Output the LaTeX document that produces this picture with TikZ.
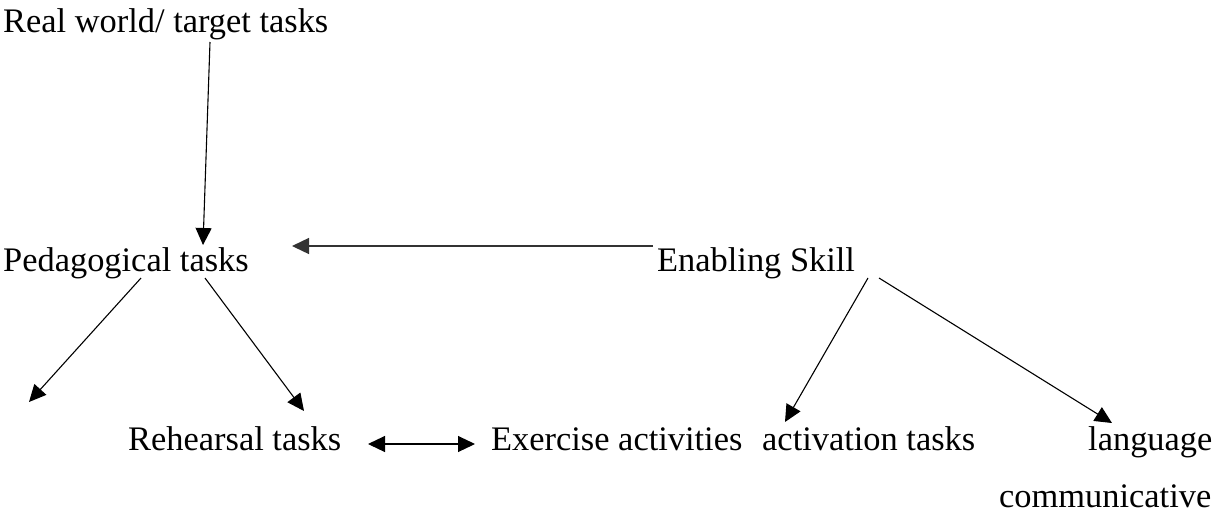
\documentclass[tikz,border=0pt]{standalone}
\usepackage{fontspec}
\setmainfont{Liberation Serif}
\usetikzlibrary{arrows.meta,calc}
\begin{document}
\begin{tikzpicture}[x=1pt,y=-1pt,
  lbl/.style={anchor=base west,inner sep=0pt,font=\fontsize{34.4}{40}\selectfont},
  head/.style={Triangle[length=17pt,width=16pt]},
  conn/.style={line width=1.1pt,-{Triangle[length=17pt,width=16pt]}},
  biconn/.style={line width=1.1pt,{Triangle[length=17pt,width=16pt]}-{Triangle[length=17pt,width=16pt]}}]
\useasboundingbox (0,0) rectangle (1212,512);

% labels
\node[lbl] (rw)   at (3,32)     {Real world/ target tasks};
\node[lbl] (ped)  at (3,271)    {Pedagogical tasks};
\node[lbl] (ena)  at (657,271)  {Enabling Skill};
\node[lbl] (reh)  at (128,450)  {Rehearsal tasks};
\node[lbl] (exe)  at (491,450)  {Exercise activities};
\node[lbl] (act)  at (762,450)  {activation tasks};
\node[lbl] (lang) at (1088,450) {language};
\node[lbl] (comm) at (999,507)  {communicative};

% free end of the unlabelled branch
\coordinate (lefttip) at (29,402);

% connectors
\draw[conn] ($(rw.base west)+(207,10)$) -- ($(ped.base west)+(200,-26)$);
\draw[conn,line width=1.4pt,draw=black!80] ($(ena.base west)+(-4,-25)$) -- ($(ped.base west)+(289,-25)$);
\draw[conn] ($(ped.base west)+(138,7)$) -- (lefttip);
\draw[conn] ($(ped.base west)+(202,7)$) -- ($(reh.base west)+(176,-39)$);
\draw[biconn] ($(reh.base west)+(240,-6)$) -- ($(exe.base west)+(-16,-6)$);
\draw[conn] ($(ena.base west)+(211,7)$) -- ($(act.base west)+(23,-28)$);
\draw[conn] ($(ena.base west)+(222,7)$) -- ($(lang.base west)+(24,-27)$);
\end{tikzpicture}
\end{document}
